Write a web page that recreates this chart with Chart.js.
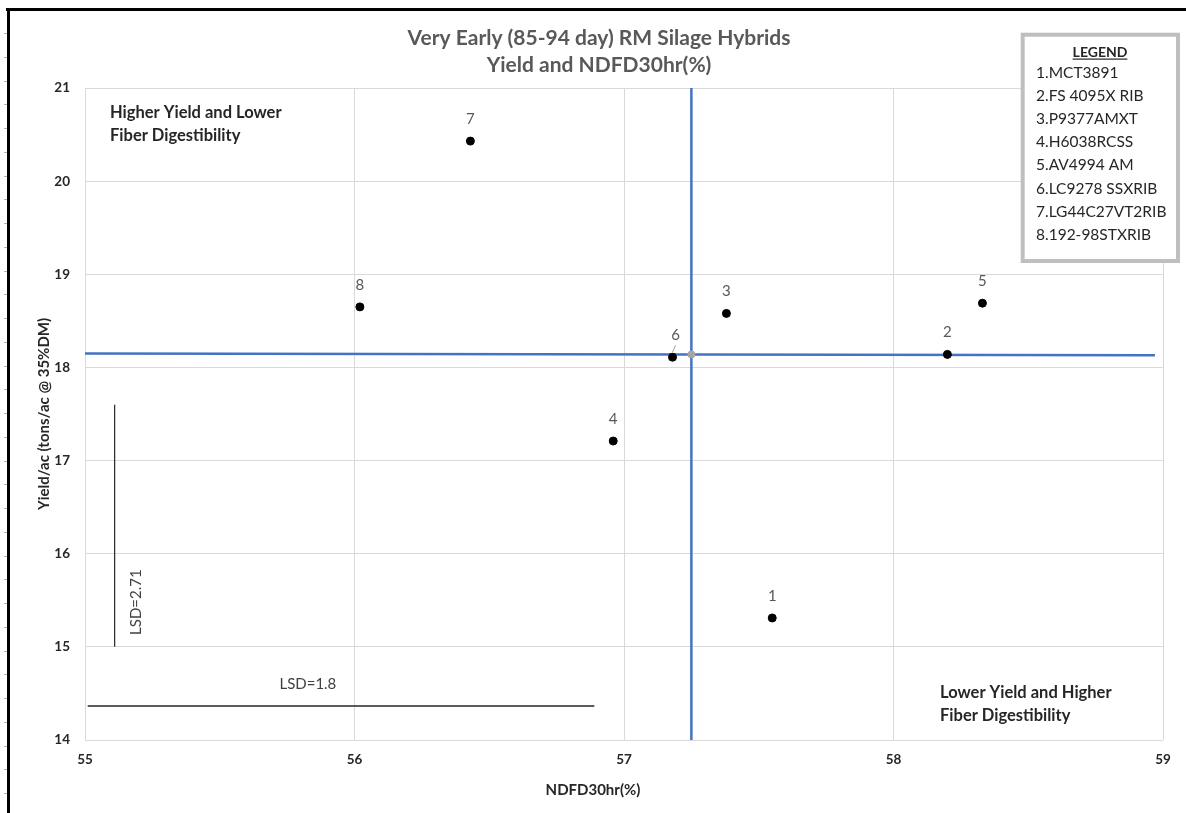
<!DOCTYPE html>
<html>
<head>
<meta charset="utf-8">
<title>Very Early (85-94 day) RM Silage Hybrids</title>
<script src="https://cdn.jsdelivr.net/npm/chart.js@4.4.1/dist/chart.umd.min.js"></script>
<style>
  html, body { margin: 0; padding: 0; background: #ffffff; }
  #wrap { width: 1186px; height: 813px; }
</style>
</head>
<body>
<div id="wrap"><canvas id="silageChart" width="1186" height="813"></canvas></div>
<script>
// Hybrids in the trial (legend order = point number)
const hybrids = ['MCT3891', 'FS 4095X RIB', 'P9377AMXT', 'H6038RCSS', 'AV4994 AM', 'LC9278 SSXRIB', 'LG44C27VT2RIB', '192-98STXRIB'];
const ndfd30 = [57.55, 58.20, 57.38, 56.96, 58.33, 57.18, 56.43, 56.02];
const yieldTons = [15.31, 18.14, 18.58, 17.21, 18.69, 18.11, 20.43, 18.65];

// Axis ranges
const xTicks = [55, 56, 57, 58, 59];
const yTicks = [14, 15, 16, 17, 18, 19, 20, 21];

// Trial mean cross-hair
const meanVertX = [57.25, 57.25];
const meanVertY = [14, 21];
const meanHorzX = [55, 58.97];
const meanHorzY = [18.15, 18.13];
const meanPoint = [57.25, 18.14];

// LSD bars
const lsdYieldX = [55.11, 55.11];
const lsdYieldY = [15.0, 17.6];
const lsdNdfdX = [55.01, 56.89];
const lsdNdfdY = [14.365, 14.365];

const titleLines = ['Very Early (85-94 day) RM Silage Hybrids', 'Yield and NDFD30hr(%)'];
const quadrantTop = ['Higher Yield and Lower', 'Fiber Digestibility'];
const quadrantBottom = ['Lower Yield and Higher', 'Fiber Digestibility'];

const FONT = 'Lato, "Open Sans", sans-serif';
const BLUE = '#4472C4';

function toPoints(xs, ys) {
  return xs.map((x, i) => ({ x: x, y: ys[i] }));
}

function lineSet(xs, ys, color, width) {
  return {
    data: toPoints(xs, ys),
    showLine: true,
    borderColor: color,
    borderWidth: width,
    pointRadius: 0,
    pointHoverRadius: 0,
    fill: false
  };
}

// Everything Excel drew outside of the plotting itself
const decorations = {
  id: 'decorations',
  beforeDraw(chart) {
    const ctx = chart.ctx;
    ctx.save();
    ctx.fillStyle = '#ffffff';
    ctx.fillRect(0, 0, chart.width, chart.height);
    // sheet border + ruler marks
    ctx.fillStyle = '#000000';
    ctx.fillRect(6, 8, chart.width - 6, 3);
    ctx.fillRect(7, 8, 3, chart.height - 8);
    ctx.strokeStyle = '#b5b5b5';
    ctx.lineWidth = 1;
    for (let y = 33; y < chart.height; y += 23.75) {
      ctx.beginPath();
      ctx.moveTo(4, Math.round(y) + 0.5);
      ctx.lineTo(7, Math.round(y) + 0.5);
      ctx.stroke();
    }
    ctx.restore();
  },
  afterDatasetsDraw(chart) {
    const ctx = chart.ctx;
    const xs = chart.scales.x;
    const ys = chart.scales.y;
    const area = chart.chartArea;
    ctx.save();

    // point numbers
    const meta = chart.getDatasetMeta(0);
    ctx.font = '15px ' + FONT;
    ctx.fillStyle = '#595959';
    ctx.textAlign = 'center';
    ctx.textBaseline = 'middle';
    meta.data.forEach((el, i) => {
      const dx = i === 5 ? 3 : 0;
      ctx.fillText(String(i + 1), el.x + dx, el.y - 22);
    });
    // small leader line on label 6
    const p6 = meta.data[5];
    ctx.strokeStyle = '#a5a5a5';
    ctx.lineWidth = 1;
    ctx.beginPath();
    ctx.moveTo(p6.x + 3, p6.y - 12);
    ctx.lineTo(p6.x, p6.y - 5);
    ctx.stroke();

    // LSD labels
    ctx.fillStyle = '#404040';
    ctx.fillText('LSD=1.8', xs.getPixelForValue(55.827), ys.getPixelForValue(14.6));
    ctx.save();
    ctx.translate(xs.getPixelForValue(55.19), ys.getPixelForValue(15.48));
    ctx.rotate(-Math.PI / 2);
    ctx.fillText('LSD=2.71', 0, 0);
    ctx.restore();

    // quadrant notes
    ctx.font = 'bold 16.5px ' + FONT;
    ctx.fillStyle = '#262626';
    ctx.textAlign = 'left';
    quadrantTop.forEach((t, i) => ctx.fillText(t, area.left + 25, area.top + 25 + i * 23));
    quadrantBottom.forEach((t, i) => ctx.fillText(t, area.left + 855, area.bottom - 47 + i * 23));
    ctx.restore();
  },
  afterDraw(chart) {
    const ctx = chart.ctx;
    ctx.save();

    // title
    ctx.font = 'bold 21px ' + FONT;
    ctx.fillStyle = '#595959';
    ctx.textAlign = 'center';
    ctx.textBaseline = 'alphabetic';
    ctx.fillText(titleLines[0], 599, 45);
    ctx.fillText(titleLines[1], 599, 72);

    // x axis title
    ctx.font = 'bold 15px ' + FONT;
    ctx.fillStyle = '#262626';
    ctx.textBaseline = 'middle';
    ctx.fillText('NDFD30hr(%)', 593, 790);

    // legend box
    ctx.fillStyle = '#ffffff';
    ctx.fillRect(1022.7, 34.7, 155.3, 226.3);
    ctx.strokeStyle = '#bfbfbf';
    ctx.lineWidth = 4;
    ctx.strokeRect(1022.7, 34.7, 155.3, 226.3);

    ctx.fillStyle = '#262626';
    ctx.font = 'bold 14px ' + FONT;
    ctx.textAlign = 'center';
    ctx.fillText('LEGEND', 1100, 52);
    const w = ctx.measureText('LEGEND').width;
    ctx.fillRect(1100 - w / 2, 58.5, w, 1.2);

    ctx.font = '15.5px ' + FONT;
    ctx.textAlign = 'left';
    hybrids.forEach((name, i) => {
      ctx.fillText((i + 1) + '.' + name, 1036, 73 + i * 23.1);
    });
    ctx.restore();
  }
};

Chart.defaults.font.family = FONT;

new Chart(document.getElementById('silageChart'), {
  type: 'scatter',
  data: {
    datasets: [
      {
        label: 'Hybrids',
        data: toPoints(ndfd30, yieldTons),
        backgroundColor: '#000000',
        borderColor: '#000000',
        pointRadius: 4,
        pointHoverRadius: 4,
        order: 0
      },
      Object.assign(lineSet(meanVertX, meanVertY, BLUE, 2.5), { order: 2 }),
      Object.assign(lineSet(meanHorzX, meanHorzY, BLUE, 2.5), { order: 2 }),
      {
        data: [{ x: meanPoint[0], y: meanPoint[1] }],
        backgroundColor: '#a5a5a5',
        borderColor: '#a5a5a5',
        pointRadius: 3.5,
        order: 1
      },
      Object.assign(lineSet(lsdYieldX, lsdYieldY, '#262626', 1.2), { order: 3 }),
      Object.assign(lineSet(lsdNdfdX, lsdNdfdY, '#262626', 1.5), { order: 3 })
    ]
  },
  options: {
    responsive: false,
    animation: false,
    layout: {
      padding: { top: 88, right: 23, bottom: 0, left: 0 }
    },
    plugins: {
      legend: { display: false },
      title: { display: false },
      tooltip: { enabled: false }
    },
    scales: {
      x: {
        type: 'linear',
        min: xTicks[0],
        max: xTicks[xTicks.length - 1],
        ticks: {
          stepSize: 1,
          padding: 12,
          color: '#262626',
          font: { size: 13.5, weight: 'bold' }
        },
        grid: { color: '#d9d9d9', drawTicks: false },
        border: { display: false },
        afterFit: (scale) => { scale.height = 73; }
      },
      y: {
        type: 'linear',
        min: yTicks[0],
        max: yTicks[yTicks.length - 1],
        ticks: {
          stepSize: 1,
          padding: 15,
          color: '#262626',
          font: { size: 13.5, weight: 'bold' }
        },
        grid: { color: '#d9d9d9', drawTicks: false },
        border: { display: false },
        title: {
          display: true,
          text: 'Yield/ac (tons/ac @ 35%DM)',
          color: '#262626',
          font: { size: 15, weight: 'bold' },
          padding: { top: 35, bottom: 0 }
        },
        afterFit: (scale) => { scale.width = 85; }
      }
    }
  },
  plugins: [decorations]
});
</script>
</body>
</html>
